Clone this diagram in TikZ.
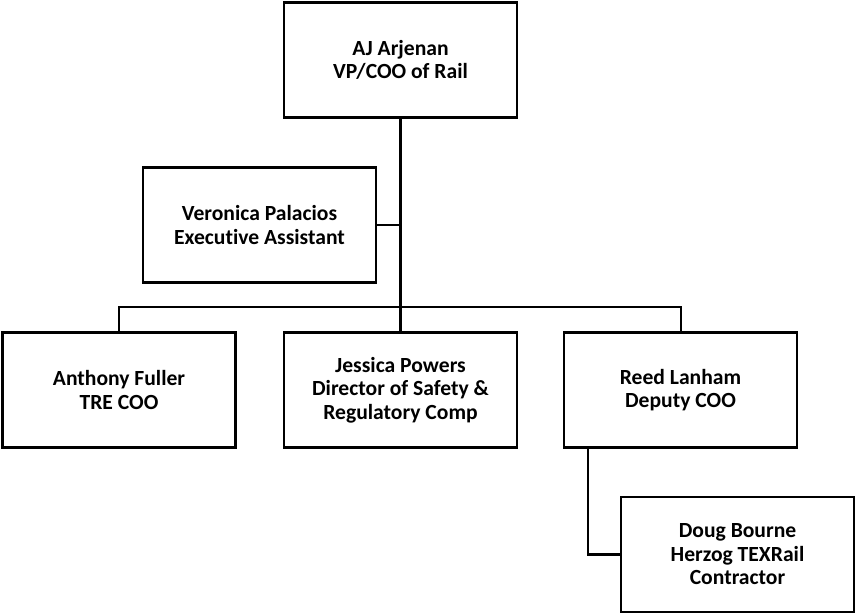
\documentclass[tikz,border=0pt]{standalone}
\usepackage{fontspec}
\setmainfont{Carlito}[Ligatures=NoCommon]
\begin{document}
\begin{tikzpicture}[x=1pt,y=-1pt,
  person/.style={draw=black,line width=2.6pt,fill=white,minimum width=233pt,minimum height=115pt,
    align=center,inner sep=0pt,font=\fontsize{21.6}{23.5}\selectfont\bfseries},
  link/.style={draw=black,line width=2pt},
  trunk/.style={draw=black,line width=3pt}]
\useasboundingbox (0,0) rectangle (855,614);
% boxes
\node[person] (top) at (400.5,60) {AJ Arjenan\\VP/COO of Rail};
\node[person] (veronica) at (259.5,225) {Veronica Palacios\\Executive Assistant};
\node[person] (anthony) at (119,390) {Anthony Fuller\\TRE COO};
\node[person] (jessica) at (400.5,390) {Jessica Powers\\Director of Safety \&\\Regulatory Comp};
\node[person] (reed) at (680.5,390) {Reed Lanham\\Deputy COO};
\node[person] (doug) at (737.5,554.5) {Doug Bourne\\Herzog TEXRail\\Contractor};
\coordinate (bus) at (400.5,307);
% connectors
\draw[trunk] (top.south) -- (jessica.north);
\draw[link] (veronica.east) -- (veronica.east -| top.south);
\draw[link] (anthony.north) |- (bus) -| (reed.north);
\draw[link,line width=2.6pt] ([xshift=-92.5pt]reed.south) |- (doug.west);
\end{tikzpicture}
\end{document}
